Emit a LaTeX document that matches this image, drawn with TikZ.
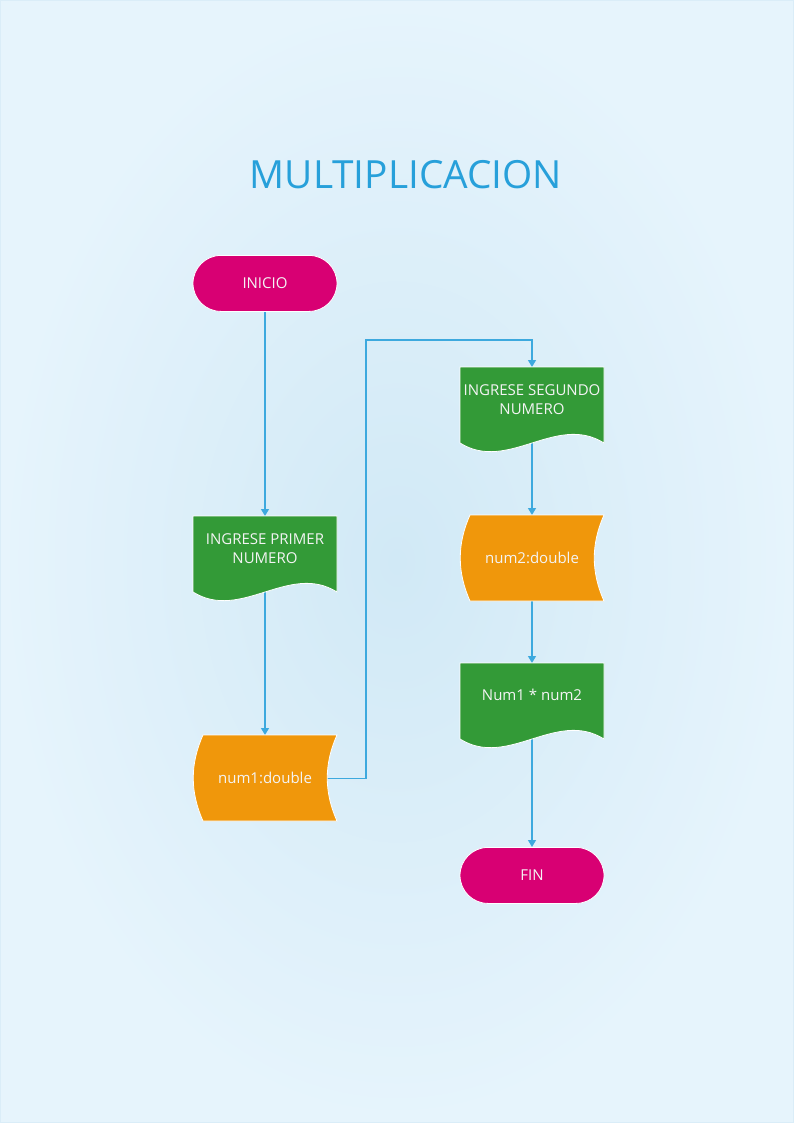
\documentclass[tikz,border=0pt]{standalone}
\usepackage{fontspec}
\setmainfont{Open Sans}
\usetikzlibrary{arrows.meta}
\definecolor{bgin}{HTML}{D1E9F6}
\definecolor{bgout}{HTML}{E6F4FC}
\definecolor{titleblue}{HTML}{27A0DA}
\definecolor{termc}{HTML}{D80073}
\definecolor{docc}{HTML}{339A37}
\definecolor{datac}{HTML}{F0970B}
\definecolor{linec}{HTML}{3DA9DE}
\definecolor{txtc}{HTML}{F4F4F4}
\pgfdeclarelayer{bglayer}
\pgfdeclarelayer{edges}
\pgfsetlayers{bglayer,edges,main}
\tikzset{
  shapeborder/.style={draw=white, line width=0.8pt},
  txt/.style={text=txtc, font=\fontsize{15}{19}\selectfont, align=center, inner sep=0pt, minimum width=144pt},
  termnode/.style={txt, fill=termc, shapeborder, rounded corners=28pt, minimum height=56pt},
  arr/.style={draw=linec, line width=1.3pt, -{Triangle[width=8pt,length=7pt]}},
}
\newcommand\FCdoc[4]{%
  \begin{scope}[shift={(#2-72,#3)}]
    \path[fill=docc, shapeborder] (0,0) -- (144,0) -- (144,76) .. controls (96,46) and (48,106) .. (0,76) -- cycle;
  \end{scope}
  \node[txt, minimum height=64pt, anchor=north] (#1) at (#2,#3) {#4};}
\newcommand\FCdata[4]{%
  \begin{scope}[shift={(#2-72,#3)}]
    \path[fill=datac, shapeborder] (10,0) -- (144,0) .. controls (131,29) and (131,57) .. (144,86) -- (10,86) .. controls (-3,57) and (-3,29) .. (10,0) -- cycle;
  \end{scope}
  \node[txt, minimum height=86pt, anchor=north] (#1) at (#2,#3) {#4};}
\begin{document}
\begin{tikzpicture}[x=1pt, y=-1pt]
\useasboundingbox (0,0) rectangle (794,1123);
\begin{pgfonlayer}{bglayer}
  \shade[inner color=bgin, outer color=bgout] (0,0) rectangle (794,1123);
  \draw[draw=bgin!80!white, line width=1pt] (0.5,0.5) rectangle (793.5,1122.5);
\end{pgfonlayer}

\node[text=titleblue, font=\fontsize{38.8}{44}\selectfont, inner sep=0pt] (title) at (406,175) {MULTIPLICACION};

\node[termnode, anchor=north] (inicio) at (265,255) {INICIO};
\FCdoc{ing1}{265}{516}{INGRESE PRIMER\\NUMERO}
\FCdata{num1}{265}{735}{num1:double}
\FCdoc{ing2}{532}{367}{INGRESE SEGUNDO\\NUMERO}
\FCdata{num2}{532}{515}{num2:double}
\FCdoc{mult}{532}{663}{Num1 * num2}
\node[termnode, anchor=north] (fin) at (532,847) {FIN};

\coordinate (bend) at (366,340);

\begin{pgfonlayer}{edges}
  \draw[arr] (inicio.south) -- (ing1.north);
  \draw[arr] (ing1.south) -- (num1.north);
  \draw[arr] (num1.center) -| (bend) -| (ing2.north);
  \draw[arr] (ing2.south) -- (num2.north);
  \draw[arr] (num2.south) -- (mult.north);
  \draw[arr] (mult.south) -- (fin.north);
\end{pgfonlayer}
\end{tikzpicture}
\end{document}
